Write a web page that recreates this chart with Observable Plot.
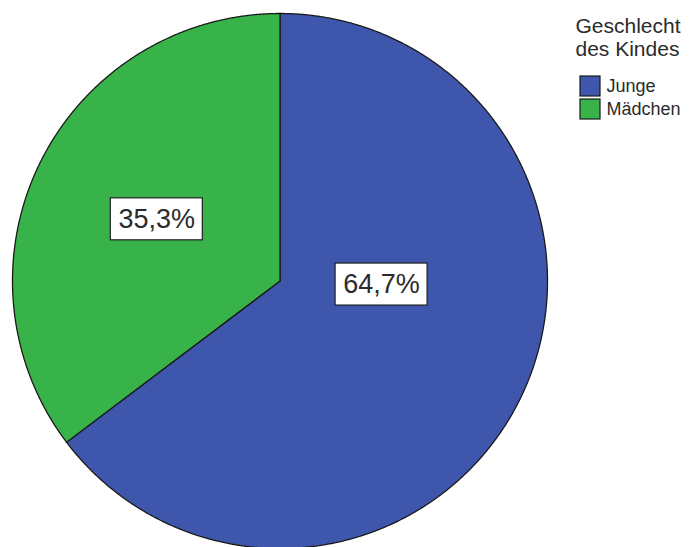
<!DOCTYPE html>
<html>
<head>
<meta charset="utf-8">
<script src="https://cdn.jsdelivr.net/npm/d3@7"></script>
<script src="https://cdn.jsdelivr.net/npm/@observablehq/plot@0.6"></script>
<style>
  html, body { margin: 0; padding: 0; background: #fff; }
  #chart svg { display: block; }
</style>
</head>
<body>
<div id="chart"></div>
<script>
// ---- data ----
const categories = ["Junge", "Mädchen"];
const percents = [64.7, 35.3];
const sliceLabels = ["64,7%", "35,3%"];
const legendTitle = ["Geschlecht", "des Kindes"];
const colors = ["#3e56ab", "#37b34a"];

// ---- layout (pixels) ----
const W = 694, H = 547;
const cx = 279.5, cy = 280.5, R = 267.5;
const labelAt = [[92, 0.38], [296.6, 0.515]]; // [angle deg clockwise from 12 o'clock, radius fraction]
const boxW = 92, boxH = 42;

const pie = d3.pie().sort(null).value(d => d)(percents);

// polygon points per slice
const pts = [];
pie.forEach((s, i) => {
  const cat = categories[i];
  pts.push({cat, x: cx, y: cy});
  const n = Math.ceil((s.endAngle - s.startAngle) / (Math.PI / 720));
  for (let k = 0; k <= n; k++) {
    const a = s.startAngle + (s.endAngle - s.startAngle) * k / n;
    pts.push({cat, x: cx + R * Math.sin(a), y: cy - R * Math.cos(a)});
  }
  pts.push({cat, x: cx, y: cy});
});

const labels = categories.map((c, i) => {
  const a = labelAt[i][0] * Math.PI / 180;
  const r = labelAt[i][1] * R;
  return {cat: c, text: sliceLabels[i], x: cx + r * Math.sin(a), y: cy - r * Math.cos(a)};
});

const legendX = 580, legendY0 = 76, sw = 20, rowH = 23;
const legendItems = categories.map((c, i) => ({cat: c, y: legendY0 + i * rowH}));
const titleLines = legendTitle.map((t, i) => ({t, y: 32 + i * 23}));

const chart = Plot.plot({
  width: W, height: H, margin: 0,
  x: {domain: [0, W], range: [0, W], axis: null},
  y: {domain: [0, H], range: [0, H], axis: null},
  color: {domain: categories, range: colors},
  style: {background: "#fff"},
  marks: [
    Plot.line(pts, {x: "x", y: "y", z: "cat", fill: "cat", stroke: "#1a1a1a", strokeWidth: 1.3, strokeLinejoin: "round"}),
    Plot.rect(labels, {x1: d => d.x - boxW / 2, x2: d => d.x + boxW / 2, y1: d => d.y - boxH / 2, y2: d => d.y + boxH / 2, fill: "#fff", stroke: "#1f1f1f", strokeWidth: 1.2}),
    Plot.text(labels, {x: "x", y: "y", text: "text", fontSize: 27, fontFamily: "'Liberation Sans Narrow', 'Liberation Sans', Arial, sans-serif", fill: "#2b2b2b", textAnchor: "middle"}),
    Plot.text(titleLines, {x: 575, y: "y", text: "t", textAnchor: "start", lineAnchor: "bottom", fontSize: 21, fontFamily: "'Liberation Sans', Arial, sans-serif", fill: "#2b2b2b"}),
    Plot.rect(legendItems, {x1: legendX, x2: legendX + sw, y1: "y", y2: d => d.y + sw, fill: "cat", stroke: "#1a1a1a", strokeWidth: 1.2}),
    Plot.text(legendItems, {x: legendX + sw + 6, y: d => d.y + sw / 2, text: "cat", textAnchor: "start", fontSize: 18, fontFamily: "'Liberation Sans', Arial, sans-serif", fill: "#2b2b2b"})
  ]
});
document.getElementById("chart").appendChild(chart);
</script>
</body>
</html>
